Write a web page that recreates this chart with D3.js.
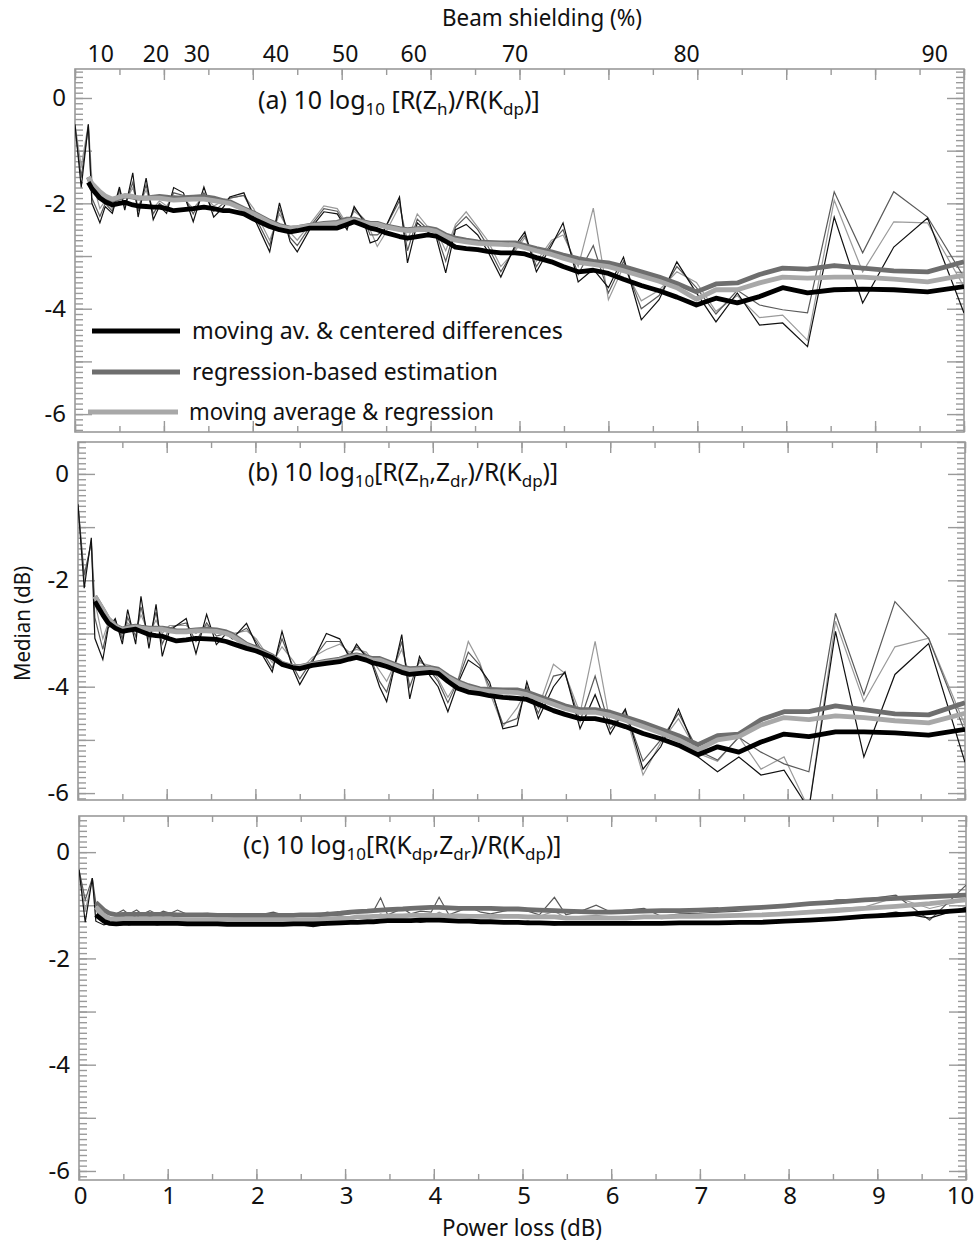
<!DOCTYPE html>
<html><head><meta charset="utf-8">
<script src="https://cdn.jsdelivr.net/npm/d3@7/dist/d3.min.js"></script>
<style>
body{margin:0;background:#fff}
svg{display:block}
text{font-family:"Noto Sans","DejaVu Sans",sans-serif;fill:#111}
</style>
</head><body>
<svg id="chart" width="977" height="1243"></svg>
<script>
// ---------------- DATA ----------------
const powerLoss = [0,0.07,0.15,0.19,0.28,0.34,0.42,0.5,0.56,0.65,0.71,0.8,0.88,0.95,1.03,1.11,1.22,1.33,1.45,1.56,1.67,1.74,1.9,2.01,2.19,2.3,2.42,2.5,2.64,2.8,2.95,3.06,3.14,3.25,3.32,3.4,3.48,3.65,3.74,3.85,3.97,4.06,4.17,4.28,4.4,4.53,4.64,4.79,4.95,5.06,5.19,5.36,5.49,5.66,5.83,6.0,6.17,6.37,6.57,6.77,6.99,7.21,7.45,7.7,7.96,8.24,8.54,8.86,9.21,9.59,10.0];

// panel (a)
const aThinBlack = [-0.5,-1.7,-0.5,-2.0,-2.37,-2.06,-2.19,-1.69,-2.13,-1.42,-2.26,-1.52,-2.31,-2.05,-2.19,-1.7,-1.8,-2.35,-1.69,-2.26,-2.07,-1.88,-1.8,-2.26,-2.92,-1.99,-2.73,-2.92,-2.5,-2.16,-2.2,-2.5,-2.06,-2.35,-2.75,-2.7,-2.5,-1.88,-3.13,-2.37,-2.55,-2.62,-3.32,-2.5,-2.4,-2.6,-2.9,-3.4,-2.8,-2.54,-3.3,-2.8,-2.37,-3.49,-3.25,-3.6,-3.02,-4.21,-3.83,-3.11,-3.7,-4.25,-3.7,-4.31,-4.27,-4.72,-2.26,-3.89,-2.83,-2.28,-4.08];
const aThinDark = [-0.6,-1.5,-0.55,-1.9,-2.25,-2.0,-2.15,-1.75,-2.05,-1.6,-2.15,-1.65,-2.2,-2.0,-2.1,-1.8,-1.85,-2.2,-1.8,-2.15,-2.0,-1.9,-1.85,-2.2,-2.8,-2.1,-2.65,-2.8,-2.45,-2.1,-2.15,-2.45,-2.1,-2.3,-2.6,-2.6,-2.5,-1.95,-2.9,-2.3,-2.5,-2.55,-3.1,-2.45,-2.25,-2.5,-2.8,-3.3,-2.85,-2.6,-3.2,-2.75,-2.5,-3.35,-2.8,-3.7,-3.1,-4.0,-3.75,-3.2,-3.6,-4.1,-3.65,-3.93,-4.02,-4.08,-1.78,-2.94,-1.78,-2.26,-3.4];
const aThinLight = [-0.5,-1.3,-0.5,-1.55,-2.1,-1.95,-2.1,-1.8,-2.0,-1.7,-2.05,-1.75,-2.1,-1.95,-2.05,-1.85,-1.9,-2.1,-1.85,-2.05,-1.95,-1.9,-1.85,-2.1,-2.7,-2.2,-2.55,-2.7,-2.4,-2.05,-2.1,-2.4,-2.15,-2.3,-2.5,-2.82,-2.6,-2.05,-2.7,-2.2,-2.45,-2.5,-2.9,-2.4,-2.16,-2.45,-2.7,-3.2,-2.9,-2.65,-3.1,-2.7,-2.6,-3.2,-2.09,-3.83,-3.2,-3.85,-3.65,-3.3,-3.5,-4.05,-3.75,-4.17,-4.12,-4.6,-1.94,-3.3,-2.35,-2.37,-3.58];
const aMovingCentered = [null,null,-1.6,-1.72,-1.9,-1.97,-2.03,-2.0,-1.98,-2.03,-2.05,-2.06,-2.07,-2.07,-2.1,-2.14,-2.12,-2.1,-2.07,-2.1,-2.14,-2.14,-2.2,-2.3,-2.44,-2.5,-2.54,-2.52,-2.47,-2.47,-2.47,-2.4,-2.35,-2.42,-2.47,-2.5,-2.55,-2.63,-2.66,-2.63,-2.6,-2.62,-2.72,-2.83,-2.86,-2.88,-2.91,-2.94,-2.94,-2.96,-3.03,-3.11,-3.2,-3.3,-3.27,-3.33,-3.44,-3.56,-3.66,-3.78,-3.93,-3.8,-3.89,-3.77,-3.6,-3.7,-3.64,-3.63,-3.64,-3.68,-3.58];
const aRegression = [null,null,-1.5,-1.65,-1.8,-1.88,-1.94,-1.9,-1.86,-1.88,-1.9,-1.9,-1.88,-1.87,-1.88,-1.9,-1.89,-1.88,-1.87,-1.9,-1.95,-1.97,-2.1,-2.18,-2.34,-2.42,-2.47,-2.46,-2.42,-2.38,-2.36,-2.3,-2.3,-2.35,-2.38,-2.38,-2.42,-2.48,-2.5,-2.48,-2.47,-2.5,-2.6,-2.66,-2.7,-2.73,-2.74,-2.75,-2.75,-2.8,-2.86,-2.92,-2.98,-3.05,-3.1,-3.13,-3.2,-3.3,-3.4,-3.52,-3.68,-3.53,-3.51,-3.35,-3.23,-3.25,-3.18,-3.23,-3.28,-3.3,-3.11];
const aMovingRegression = [null,null,-1.5,-1.62,-1.78,-1.86,-1.92,-1.88,-1.85,-1.87,-1.89,-1.9,-1.9,-1.9,-1.92,-1.94,-1.93,-1.92,-1.92,-1.95,-1.98,-2.0,-2.12,-2.2,-2.36,-2.44,-2.48,-2.46,-2.43,-2.4,-2.38,-2.33,-2.32,-2.37,-2.4,-2.4,-2.44,-2.5,-2.52,-2.5,-2.5,-2.53,-2.63,-2.7,-2.73,-2.76,-2.77,-2.78,-2.79,-2.84,-2.9,-2.97,-3.04,-3.12,-3.16,-3.2,-3.28,-3.38,-3.48,-3.6,-3.82,-3.64,-3.64,-3.51,-3.4,-3.42,-3.4,-3.4,-3.44,-3.49,-3.36];

// panel (b)
const bThinBlack = [-0.57,-2.15,-1.2,-3.09,-3.49,-2.9,-2.72,-3.2,-2.55,-3.2,-2.3,-3.28,-2.45,-3.43,-2.95,-2.85,-2.72,-3.38,-2.64,-3.21,-3.0,-3.1,-2.81,-3.21,-3.72,-2.96,-3.66,-3.96,-3.55,-3.0,-3.1,-3.45,-3.2,-3.45,-3.6,-4.0,-4.28,-3.02,-4.23,-3.43,-3.8,-4.0,-4.47,-3.95,-3.5,-3.65,-3.91,-4.79,-4.73,-3.91,-4.6,-4.0,-3.72,-4.79,-4.15,-4.89,-4.42,-5.55,-5.13,-4.42,-5.32,-5.6,-5.32,-5.66,-5.57,-6.3,-2.96,-5.32,-3.77,-3.19,-5.42];
const bThinDark = [-0.6,-1.9,-1.3,-2.7,-3.3,-2.85,-2.75,-3.1,-2.7,-3.05,-2.5,-3.1,-2.6,-3.2,-2.9,-2.85,-2.8,-3.15,-2.8,-3.05,-3.0,-3.05,-2.9,-3.15,-3.65,-3.1,-3.6,-3.85,-3.5,-3.15,-3.15,-3.4,-3.25,-3.4,-3.55,-3.9,-4.1,-3.15,-4.0,-3.5,-3.7,-3.9,-4.3,-3.9,-3.35,-3.6,-4.0,-4.7,-4.6,-4.0,-4.5,-3.8,-3.75,-4.65,-3.8,-4.8,-4.45,-5.4,-5.0,-4.5,-5.2,-5.38,-4.95,-5.23,-5.45,-5.6,-2.62,-4.15,-2.4,-3.09,-4.85];
const bThinLight = [-0.55,-2.0,-1.25,-2.4,-3.1,-2.8,-2.8,-3.05,-2.8,-2.95,-2.65,-3.0,-2.75,-3.0,-2.85,-2.85,-2.85,-3.0,-2.85,-2.95,-2.95,-3.0,-2.95,-3.1,-3.55,-3.25,-3.5,-3.7,-3.45,-3.3,-3.2,-3.35,-3.3,-3.35,-3.5,-3.7,-3.9,-3.3,-3.8,-3.55,-3.6,-3.85,-4.2,-3.9,-3.15,-3.55,-4.1,-4.75,-4.4,-4.05,-4.4,-3.58,-3.75,-4.5,-3.15,-4.7,-4.5,-5.66,-5.05,-4.6,-5.25,-5.4,-4.94,-5.55,-5.32,-6.3,-2.77,-4.28,-3.25,-3.09,-4.72];
const bMovingCentered = [null,null,null,-2.4,-2.65,-2.8,-2.9,-2.96,-2.94,-2.92,-2.96,-3.02,-3.04,-3.05,-3.1,-3.14,-3.12,-3.09,-3.1,-3.11,-3.15,-3.19,-3.28,-3.33,-3.45,-3.58,-3.64,-3.66,-3.6,-3.56,-3.53,-3.48,-3.45,-3.5,-3.55,-3.58,-3.62,-3.73,-3.77,-3.75,-3.73,-3.75,-3.9,-4.03,-4.1,-4.13,-4.17,-4.2,-4.22,-4.24,-4.33,-4.45,-4.52,-4.6,-4.6,-4.66,-4.75,-4.88,-4.98,-5.1,-5.28,-5.13,-5.23,-5.04,-4.89,-4.94,-4.85,-4.85,-4.87,-4.91,-4.8];
const bRegression = [null,null,null,-2.3,-2.55,-2.72,-2.85,-2.92,-2.88,-2.86,-2.88,-2.9,-2.9,-2.9,-2.92,-2.95,-2.95,-2.93,-2.92,-2.93,-2.97,-3.02,-3.2,-3.27,-3.42,-3.56,-3.62,-3.62,-3.57,-3.52,-3.48,-3.42,-3.4,-3.44,-3.47,-3.47,-3.52,-3.63,-3.66,-3.65,-3.64,-3.67,-3.8,-3.9,-3.98,-4.04,-4.05,-4.06,-4.06,-4.1,-4.18,-4.28,-4.36,-4.43,-4.43,-4.48,-4.57,-4.68,-4.8,-4.92,-5.09,-4.92,-4.89,-4.62,-4.47,-4.47,-4.36,-4.43,-4.51,-4.53,-4.3];
const bMovingRegression = [null,null,null,-2.3,-2.55,-2.72,-2.86,-2.93,-2.9,-2.88,-2.9,-2.92,-2.92,-2.92,-2.95,-2.97,-2.97,-2.95,-2.95,-2.96,-3.0,-3.05,-3.22,-3.3,-3.44,-3.57,-3.63,-3.63,-3.58,-3.54,-3.5,-3.45,-3.42,-3.46,-3.5,-3.5,-3.55,-3.66,-3.69,-3.68,-3.67,-3.7,-3.83,-3.93,-4.01,-4.07,-4.09,-4.1,-4.11,-4.15,-4.23,-4.33,-4.41,-4.48,-4.48,-4.54,-4.63,-4.75,-4.87,-5.0,-5.19,-5.0,-4.94,-4.72,-4.58,-4.62,-4.55,-4.58,-4.64,-4.68,-4.5];

// panel (c)
const cThinBlack = [-0.33,-1.32,-0.49,-1.30,-1.37,-1.34,-1.36,-1.32,-1.37,-1.34,-1.36,-1.34,-1.37,-1.35,-1.34,-1.36,-1.35,-1.34,-1.36,-1.35,-1.36,-1.37,-1.36,-1.38,-1.37,-1.36,-1.38,-1.37,-1.40,-1.36,-1.35,-1.34,-1.33,-1.32,-1.34,-1.32,-1.31,-1.30,-1.28,-1.32,-1.29,-1.30,-1.28,-1.30,-1.32,-1.29,-1.31,-1.34,-1.33,-1.30,-1.34,-1.37,-1.34,-1.36,-1.34,-1.35,-1.32,-1.36,-1.33,-1.34,-1.32,-1.33,-1.30,-1.32,-1.30,-1.28,-1.27,-1.21,-1.13,-1.24,-1.04];
const cThinDark = [-0.33,-0.90,-0.49,-0.96,-1.11,-1.13,-1.16,-1.09,-1.17,-1.09,-1.17,-1.10,-1.17,-1.11,-1.15,-1.09,-1.17,-1.16,-1.15,-1.18,-1.17,-1.18,-1.17,-1.19,-1.13,-1.18,-1.20,-1.18,-1.19,-1.13,-1.18,-1.16,-1.13,-1.11,-1.11,-0.86,-1.18,-1.06,-1.16,-1.11,-1.13,-0.85,-1.18,-1.11,-1.03,-1.13,-1.16,-1.11,-1.06,-1.11,-1.18,-0.85,-1.18,-1.11,-1.00,-1.13,-1.09,-1.06,-1.21,-1.16,-1.15,-1.13,-1.11,-1.06,-1.03,-0.99,-0.90,-0.89,-0.81,-1.28,-0.62];
const cThinLight = [-0.33,-1.11,-0.51,-1.11,-1.24,-1.24,-1.26,-1.21,-1.27,-1.19,-1.27,-1.21,-1.26,-1.22,-1.26,-1.24,-1.26,-1.25,-1.26,-1.27,-1.26,-1.27,-1.26,-1.28,-1.27,-1.25,-1.29,-1.27,-1.28,-1.24,-1.21,-1.24,-1.21,-1.19,-1.22,-1.16,-1.21,-1.18,-1.21,-1.19,-1.21,-1.13,-1.21,-1.19,-1.21,-1.18,-1.24,-1.21,-1.19,-1.22,-1.21,-1.11,-1.24,-1.21,-1.19,-1.22,-1.21,-1.21,-1.25,-1.21,-1.20,-1.19,-1.18,-1.16,-1.13,-1.11,-1.06,-1.03,-0.85,-1.06,-0.90];
const cMovingCentered = [null,null,null,-1.18,-1.30,-1.34,-1.35,-1.34,-1.34,-1.34,-1.34,-1.34,-1.34,-1.34,-1.34,-1.34,-1.35,-1.35,-1.35,-1.35,-1.36,-1.36,-1.36,-1.36,-1.36,-1.36,-1.35,-1.35,-1.35,-1.34,-1.33,-1.32,-1.32,-1.31,-1.31,-1.30,-1.29,-1.29,-1.29,-1.28,-1.28,-1.28,-1.29,-1.30,-1.30,-1.31,-1.31,-1.32,-1.32,-1.33,-1.33,-1.34,-1.34,-1.34,-1.34,-1.34,-1.34,-1.34,-1.34,-1.33,-1.33,-1.33,-1.32,-1.32,-1.30,-1.28,-1.25,-1.21,-1.18,-1.14,-1.09];
const cRegression = [null,null,null,-0.95,-1.09,-1.15,-1.18,-1.17,-1.17,-1.17,-1.17,-1.17,-1.17,-1.17,-1.17,-1.18,-1.18,-1.18,-1.18,-1.19,-1.19,-1.19,-1.19,-1.19,-1.19,-1.19,-1.19,-1.18,-1.18,-1.17,-1.15,-1.13,-1.12,-1.11,-1.10,-1.09,-1.08,-1.07,-1.06,-1.05,-1.04,-1.04,-1.05,-1.06,-1.06,-1.06,-1.06,-1.07,-1.07,-1.08,-1.09,-1.10,-1.11,-1.12,-1.13,-1.13,-1.12,-1.11,-1.10,-1.10,-1.09,-1.08,-1.06,-1.04,-1.01,-0.97,-0.94,-0.90,-0.87,-0.84,-0.81];
const cMovingRegression = [null,null,null,-1.03,-1.19,-1.25,-1.26,-1.26,-1.26,-1.26,-1.26,-1.26,-1.26,-1.26,-1.26,-1.27,-1.27,-1.27,-1.27,-1.27,-1.27,-1.28,-1.28,-1.28,-1.28,-1.28,-1.28,-1.27,-1.27,-1.26,-1.25,-1.24,-1.22,-1.22,-1.21,-1.21,-1.20,-1.20,-1.19,-1.19,-1.19,-1.19,-1.20,-1.20,-1.21,-1.21,-1.21,-1.21,-1.21,-1.22,-1.22,-1.22,-1.24,-1.24,-1.24,-1.24,-1.24,-1.22,-1.22,-1.21,-1.21,-1.20,-1.19,-1.18,-1.16,-1.13,-1.10,-1.06,-1.02,-0.97,-0.90];

// axes / labels
const yTickLabels = [0, -2, -4, -6];
const xTickLabels = [0,1,2,3,4,5,6,7,8,9,10];
const beamShieldingLabels = [10,20,30,40,50,60,70,80,90];
const beamShieldingPos = [0.29,0.91,1.37,2.26,3.04,3.81,4.95,6.88,9.67]; // dB positions of the labels as placed
const legendLabels = ["moving av. & centered differences","regression-based estimation","moving average & regression"];

// ---------------- DRAW ----------------
const svg = d3.select("#chart");
const thinColors = ["#111111","#5a5a5a","#9a9a9a"];
const thickColors = ["#000000","#6e6e6e","#a8a8a8"];
const frameColor = "#9a9a9a";

const panels = [
  {id:"a", top:69, bottom:432, left:75, right:964, yDomain:[-6.34, 0.55],
   thin:[aThinBlack,aThinDark,aThinLight], thick:[aMovingCentered,aRegression,aMovingRegression],
   title:[["(a) 10 log"],["10",1],[" [R(Z"],["h",1],[")/R(K"],["dp",1],[")]"]], tx:258, ty:109, fs:25, fss:17},
  {id:"b", top:442, bottom:800, left:78, right:965, yDomain:[-6.13, 0.6],
   thin:[bThinBlack,bThinDark,bThinLight], thick:[bMovingCentered,bRegression,bMovingRegression],
   title:[["(b) 10 log"],["10",1],["[R(Z"],["h",1],[",Z"],["dr",1],[")/R(K"],["dp",1],[")]"]], tx:248, ty:481, fs:24.5, fss:17},
  {id:"c", top:816, bottom:1180, left:79, right:966, yDomain:[-6.17, 0.68],
   thin:[cThinBlack,cThinDark,cThinLight], thick:[cMovingCentered,cRegression,cMovingRegression],
   title:[["(c) 10 log"],["10",1],["[R(K"],["dp",1],[",Z"],["dr",1],[")/R(K"],["dp",1],[")]"]], tx:243, ty:854, fs:24.5, fss:17}
];

panels.forEach(p => {
  const x = d3.scaleLinear().domain([0, 10]).range([p.left, p.right]);
  const y = d3.scaleLinear().domain(p.yDomain).range([p.bottom, p.top]);
  p.x = x; p.y = y;
  const g = svg.append("g");
  const lo = Math.ceil(p.yDomain[0] * 10), hi = Math.floor(p.yDomain[1] * 10);
  const minorY = d3.range(lo, hi + 1).map(v => v / 10);
  const majorY = d3.range(Math.ceil(p.yDomain[0]), Math.floor(p.yDomain[1]) + 1);
  const minorX = d3.range(0, 21).map(v => v / 2);
  const majorX = d3.range(0, 11);

  const clipId = "clip" + p.id;
  svg.append("clipPath").attr("id", clipId).append("rect")
    .attr("x", p.left).attr("y", p.top).attr("width", p.right - p.left).attr("height", p.bottom - p.top);

  const tickStyle = sel => { sel.select(".domain").remove(); sel.selectAll("line").attr("stroke", frameColor).attr("stroke-width", 1.4); sel.selectAll("text").remove(); };
  g.append("g").attr("transform", `translate(${p.left},0)`).call(d3.axisRight(y).tickValues(minorY).tickSize(8).tickFormat("")).call(tickStyle);
  g.append("g").attr("transform", `translate(${p.left},0)`).call(d3.axisRight(y).tickValues(majorY).tickSize(17).tickFormat("")).call(tickStyle);
  g.append("g").attr("transform", `translate(${p.right},0)`).call(d3.axisLeft(y).tickValues(minorY).tickSize(8).tickFormat("")).call(tickStyle);
  g.append("g").attr("transform", `translate(${p.right},0)`).call(d3.axisLeft(y).tickValues(majorY).tickSize(17).tickFormat("")).call(tickStyle);
  g.append("g").attr("transform", `translate(0,${p.bottom})`).call(d3.axisTop(x).tickValues(minorX).tickSize(6).tickFormat("")).call(tickStyle);
  g.append("g").attr("transform", `translate(0,${p.bottom})`).call(d3.axisTop(x).tickValues(majorX).tickSize(11).tickFormat("")).call(tickStyle);
  g.append("g").attr("transform", `translate(0,${p.top})`).call(d3.axisBottom(x).tickValues(minorX).tickSize(6).tickFormat("")).call(tickStyle);
  g.append("g").attr("transform", `translate(0,${p.top})`).call(d3.axisBottom(x).tickValues(majorX).tickSize(11).tickFormat("")).call(tickStyle);

  const yl = g.append("g").attr("transform", `translate(${p.left - 6},0)`)
    .call(d3.axisLeft(y).tickValues(yTickLabels).tickSize(0).tickFormat(d => String(d)));
  yl.select(".domain").remove();
  yl.selectAll("text").attr("font-size", 24).attr("font-family", "Noto Sans").attr("fill", "#111");

  g.append("rect").attr("x", p.left).attr("y", p.top).attr("width", p.right - p.left).attr("height", p.bottom - p.top)
    .attr("fill", "none").attr("stroke", frameColor).attr("stroke-width", 1.6);

  const data = g.append("g").attr("clip-path", `url(#${clipId})`);
  const line = d3.line().defined(d => d[1] !== null).x(d => x(d[0])).y(d => y(d[1]));

  [2, 1, 0].forEach(k => {
    data.append("path").datum(powerLoss.map((v, i) => [v, p.thin[k][i]]))
      .attr("d", line).attr("fill", "none").attr("stroke", thinColors[k]).attr("stroke-width", 1.2);
  });
  [1, 2, 0].forEach(k => {
    data.append("path").datum(powerLoss.map((v, i) => [v, p.thick[k][i]]))
      .attr("d", line).attr("fill", "none").attr("stroke", thickColors[k]).attr("stroke-width", 4.8)
      .attr("stroke-linejoin", "round");
  });

  const t = g.append("text").attr("x", p.tx).attr("y", p.ty).attr("font-size", p.fs);
  let shifted = false;
  p.title.forEach(part => {
    const ts = t.append("tspan").text(part[0]);
    if (part[1]) { ts.attr("font-size", p.fss); if (!shifted) { ts.attr("dy", 6); shifted = true; } }
    else if (shifted) { ts.attr("dy", -6); shifted = false; }
  });
});

// x tick labels under bottom panel
const pc = panels[2];
const xl = svg.append("g").attr("transform", `translate(0,${pc.bottom + 4})`)
  .call(d3.axisBottom(pc.x).tickValues(xTickLabels).tickSize(0).tickFormat(d => String(d)));
xl.select(".domain").remove();
xl.selectAll("text").attr("font-size", 24).attr("font-family", "Noto Sans").attr("fill", "#111")
  .attr("dx", d => d === 10 ? -6 : 1);

// top beam shielding labels
const pa = panels[0];
svg.append("g").selectAll("text").data(beamShieldingLabels).join("text")
  .attr("x", (d, i) => pa.x(beamShieldingPos[i])).attr("y", 62)
  .attr("text-anchor", "middle").attr("font-size", 23).text(d => d);

svg.append("text").attr("x", 442).attr("y", 26).attr("font-size", 23)
  .attr("textLength", 200).attr("lengthAdjust", "spacingAndGlyphs").text("Beam shielding (%)");
svg.append("text").attr("x", 442).attr("y", 1236).attr("font-size", 23)
  .attr("textLength", 160).attr("lengthAdjust", "spacingAndGlyphs").text("Power loss (dB)");
svg.append("text").attr("transform", "translate(30,681) rotate(-90)").attr("font-size", 22)
  .attr("textLength", 115).attr("lengthAdjust", "spacingAndGlyphs").text("Median (dB)");

// legend in panel (a)
const legendY = [331, 372, 412];
const legendX0 = [92, 92, 88], legendX1 = [180, 180, 178], legendTX = [192, 192, 189], legendTL = [371, 306, 305];
const lg = svg.append("g");
legendLabels.forEach((lab, i) => {
  lg.append("line").attr("x1", legendX0[i]).attr("x2", legendX1[i]).attr("y1", legendY[i]).attr("y2", legendY[i])
    .attr("stroke", thickColors[i]).attr("stroke-width", 5);
  lg.append("text").attr("x", legendTX[i]).attr("y", legendY[i] + 8).attr("font-size", 24)
    .attr("textLength", legendTL[i]).attr("lengthAdjust", "spacingAndGlyphs").text(lab);
});
</script>
</body></html>
